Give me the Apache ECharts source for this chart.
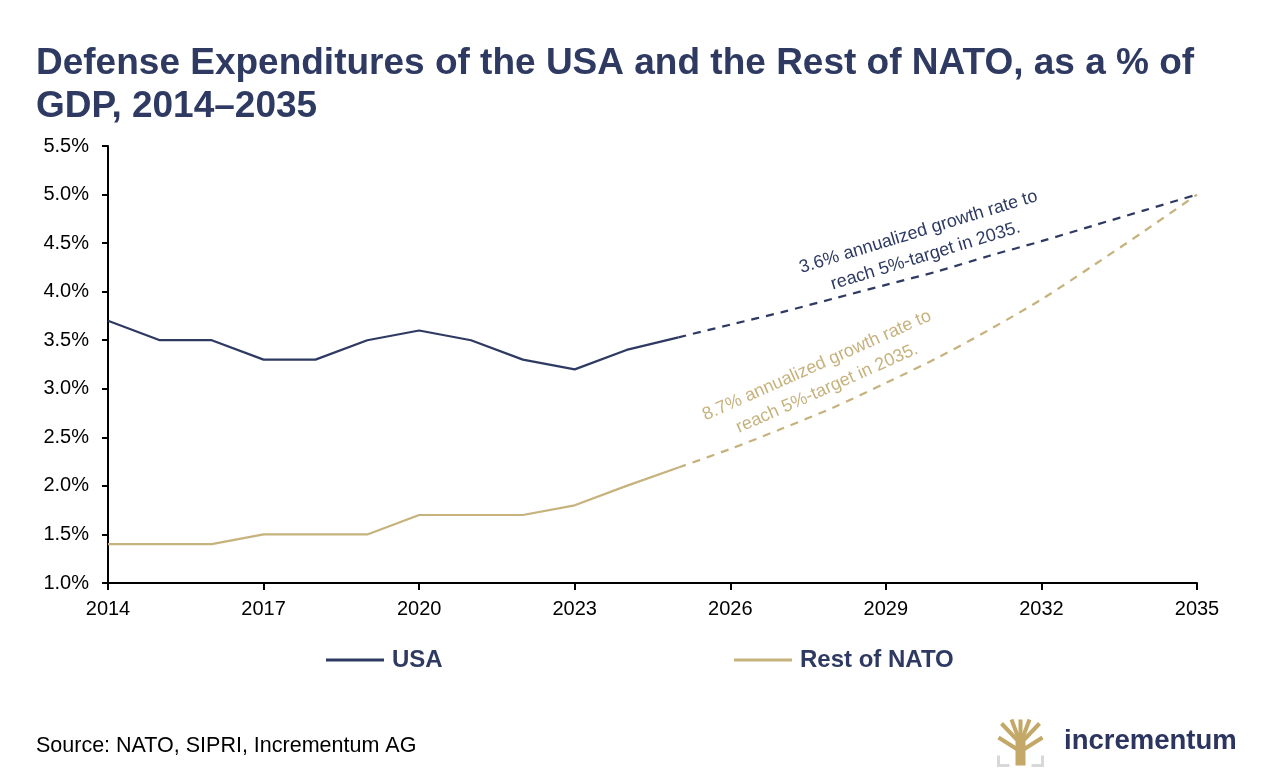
<!DOCTYPE html>
<html>
<head>
<meta charset="utf-8">
<script src="https://cdn.jsdelivr.net/npm/echarts@6/dist/echarts.min.js"></script>
<style>
  html, body { margin: 0; padding: 0; background: #fff; }
  #chart { width: 1276px; height: 779px; }
</style>
</head>
<body>
<div id="chart"></div>
<script>
// years 2014..2035
const years = ['2014', '2015', '2016', '2017', '2018', '2019', '2020', '2021', '2022', '2023', '2024',
  '2025', '2026', '2027', '2028', '2029', '2030', '2031', '2032', '2033', '2034', '2035'];

// actual values (% of GDP), 2014-2025
const usaActual = [3.7, 3.5, 3.5, 3.3, 3.3, 3.5, 3.6, 3.5, 3.3, 3.2, 3.4, 3.53];
const natoActual = [1.4, 1.4, 1.4, 1.5, 1.5, 1.5, 1.7, 1.7, 1.7, 1.8, 2.0, 2.19];

// projected path, 2025-2035
const usaProjected = [3.53, 3.66, 3.79, 3.93, 4.07, 4.21, 4.37, 4.52, 4.68, 4.84, 5.0];
const natoProjected = [2.19, 2.38, 2.59, 2.81, 3.06, 3.32, 3.61, 3.92, 4.27, 4.63, 5.0];

const yTicks = { min: 1.0, max: 5.5, step: 0.5 };

const NAVY = '#2e3a62';
const GOLD = '#c6b27c';
const FONT = 'Liberation Sans, Arial, sans-serif';

const pad = (arr, before) => new Array(before).fill(null).concat(arr);

const chart = echarts.init(document.getElementById('chart'));

const legendText = {
  color: NAVY,
  fontFamily: FONT,
  fontWeight: 'bold',
  fontSize: 24,
  padding: [0, 0, 0, 3]
};

chart.setOption({
  backgroundColor: '#fff',
  animation: false,
  title: {
    text: 'Defense Expenditures of the USA and the Rest of NATO, as a % of\nGDP, 2014–2035',
    left: 31,
    top: 37,
    textStyle: {
      color: NAVY,
      fontFamily: FONT,
      fontWeight: 'bold',
      fontSize: 37,
      lineHeight: 43
    }
  },
  legend: [
    {
      data: ['USA'],
      left: 326,
      top: 648,
      padding: 0,
      itemWidth: 58,
      itemHeight: 3,
      icon: 'rect',
      textStyle: legendText
    },
    {
      data: ['Rest of NATO'],
      left: 734,
      top: 648,
      padding: 0,
      itemWidth: 58,
      itemHeight: 3,
      icon: 'rect',
      textStyle: legendText
    }
  ],
  grid: {
    left: 108,
    right: 79,
    top: 146,
    bottom: 196,
    containLabel: false
  },
  xAxis: {
    type: 'category',
    data: years,
    boundaryGap: false,
    axisLine: { lineStyle: { color: '#000', width: 2 } },
    axisTick: { interval: 2, length: 7, lineStyle: { color: '#000', width: 2 } },
    axisLabel: { interval: 2, color: '#000', fontFamily: FONT, fontSize: 20, margin: 16 },
    splitLine: { show: false }
  },
  yAxis: {
    type: 'value',
    min: yTicks.min,
    max: yTicks.max,
    interval: yTicks.step,
    axisLine: { show: true, lineStyle: { color: '#000', width: 2 } },
    axisTick: { show: true, length: 6, lineStyle: { color: '#000', width: 2 } },
    axisLabel: {
      color: '#000',
      fontFamily: FONT,
      fontSize: 20,
      margin: 19,
      formatter: (v) => v.toFixed(1) + '%'
    },
    splitLine: { show: false }
  },
  series: [
    {
      name: 'USA',
      type: 'line',
      data: usaActual,
      symbol: 'none',
      color: NAVY,
      lineStyle: { color: NAVY, width: 2.2 }
    },
    {
      name: 'Rest of NATO',
      type: 'line',
      data: natoActual,
      symbol: 'none',
      color: GOLD,
      lineStyle: { color: GOLD, width: 2.2 }
    },
    {
      name: 'USA projection',
      type: 'line',
      data: pad(usaProjected, 11),
      symbol: 'none',
      smooth: 0.3,
      lineStyle: { color: NAVY, width: 2.2, type: [8, 7] }
    },
    {
      name: 'Rest of NATO projection',
      type: 'line',
      data: pad(natoProjected, 11),
      symbol: 'none',
      smooth: 0.3,
      lineStyle: { color: GOLD, width: 2.2, type: [8, 7] }
    }
  ],
  graphic: [
    {
      type: 'text',
      x: 922,
      y: 244,
      rotation: 17 * Math.PI / 180,
      style: {
        text: '3.6% annualized growth rate to\nreach 5%-target in 2035.',
        x: 0, y: 0,
        align: 'center',
        verticalAlign: 'middle',
        fill: NAVY,
        font: '18px ' + FONT,
        lineHeight: 25
      }
    },
    {
      type: 'text',
      x: 822,
      y: 377,
      rotation: 24 * Math.PI / 180,
      style: {
        text: '8.7% annualized growth rate to\nreach 5%-target in 2035.',
        x: 0, y: 0,
        align: 'center',
        verticalAlign: 'middle',
        fill: GOLD,
        font: '18px ' + FONT,
        lineHeight: 25
      }
    },
    {
      type: 'text',
      left: 36,
      top: 735,
      style: {
        text: 'Source: NATO, SIPRI, Incrementum AG',
        fill: '#000',
        font: '21.5px ' + FONT
      }
    },
    // logo: simplified tree mark
    {
      type: 'group',
      left: 996,
      top: 717,
      children: [
        { type: 'rect', shape: { x: 18, y: 22, width: 10, height: 24 }, style: { fill: '#c3a867' } },
        { type: 'polyline', shape: { points: [[23, 24], [4, 4]] }, style: { stroke: '#c3a867', lineWidth: 4 } },
        { type: 'polyline', shape: { points: [[23, 24], [14, 0]] }, style: { stroke: '#c3a867', lineWidth: 4 } },
        { type: 'polyline', shape: { points: [[23, 24], [23, 0]] }, style: { stroke: '#c3a867', lineWidth: 4 } },
        { type: 'polyline', shape: { points: [[23, 24], [32, 0]] }, style: { stroke: '#c3a867', lineWidth: 4 } },
        { type: 'polyline', shape: { points: [[23, 24], [42, 4]] }, style: { stroke: '#c3a867', lineWidth: 4 } },
        { type: 'polyline', shape: { points: [[20, 30], [1, 18]] }, style: { stroke: '#c3a867', lineWidth: 4 } },
        { type: 'polyline', shape: { points: [[26, 30], [45, 18]] }, style: { stroke: '#c3a867', lineWidth: 4 } },
        { type: 'polyline', shape: { points: [[1, 36], [1, 46], [12, 46]] }, style: { stroke: '#d8d8d8', lineWidth: 3, fill: null } },
        { type: 'polyline', shape: { points: [[45, 36], [45, 46], [34, 46]] }, style: { stroke: '#d8d8d8', lineWidth: 3, fill: null } }
      ]
    },
    {
      type: 'text',
      left: 1064,
      top: 727,
      style: {
        text: 'incrementum',
        fill: '#2b3560',
        font: '600 27.5px ' + FONT
      }
    }
  ]
});
</script>
</body>
</html>
